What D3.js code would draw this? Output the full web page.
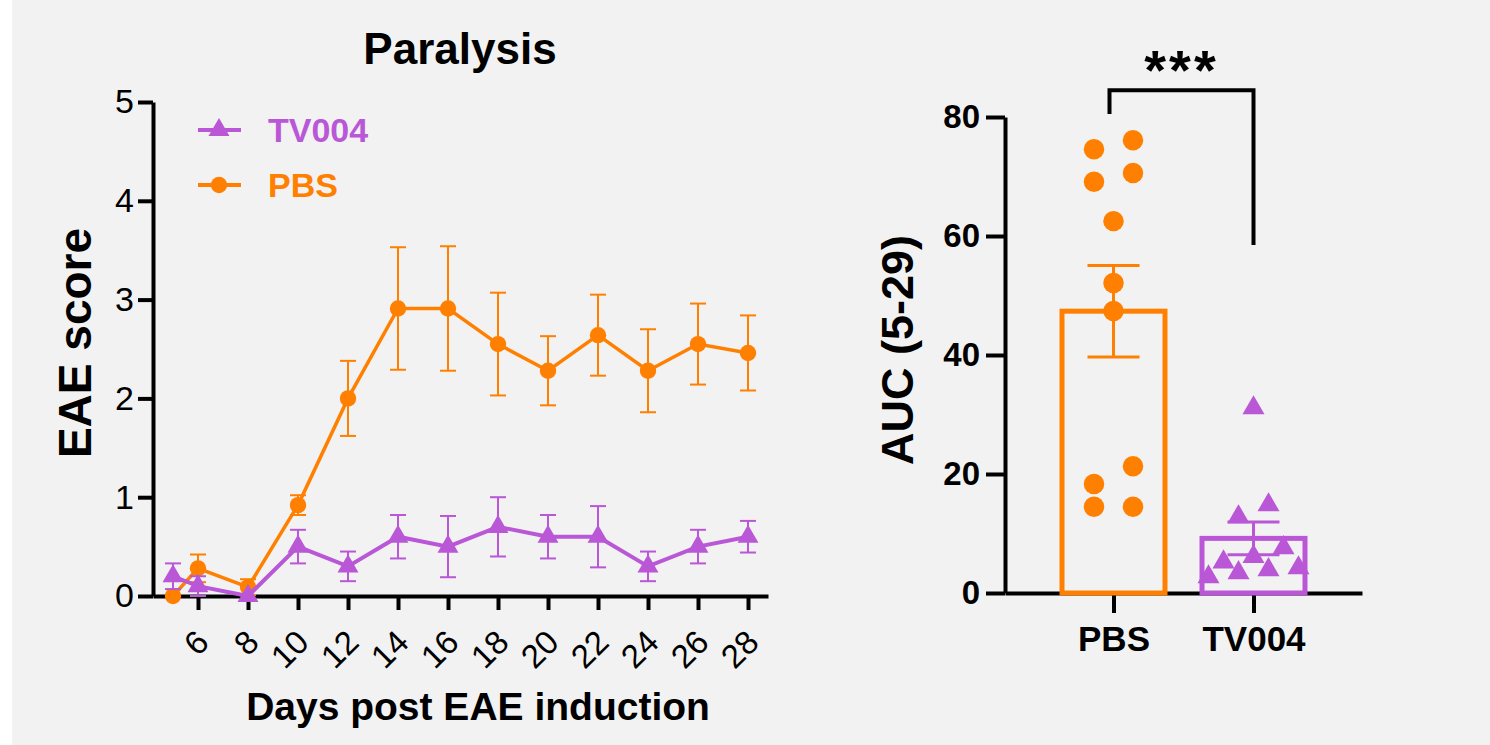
<!DOCTYPE html>
<html>
<head>
<meta charset="utf-8">
<script src="https://cdn.jsdelivr.net/npm/d3@7"></script>
<style>
  body { margin: 0; background: #fff; }
  svg text { font-family: "Liberation Sans", Arial, sans-serif; }
</style>
</head>
<body>
<div id="graf"></div>
<script>
// --- data: EAE score time course (mean, SEM)
const days = [5, 6, 8, 10, 12, 14, 16, 18, 20, 22, 24, 26, 28]
const pbsMean = [0, 0.28, 0.09, 0.92, 2.0, 2.91, 2.91, 2.55, 2.28, 2.64, 2.28, 2.55, 2.46]
const pbsSem = [0, 0.14, 0.08, 0.1, 0.38, 0.62, 0.63, 0.52, 0.35, 0.41, 0.42, 0.41, 0.38]
const tvMean = [0.2, 0.1, 0, 0.5, 0.3, 0.6, 0.5, 0.7, 0.6, 0.6, 0.3, 0.5, 0.6]
const tvSem = [0.13, 0.1, 0, 0.17, 0.15, 0.22, 0.31, 0.3, 0.22, 0.31, 0.15, 0.17, 0.16]
const dayTicks = [6, 8, 10, 12, 14, 16, 18, 20, 22, 24, 26, 28]
const scoreTicks = [0, 1, 2, 3, 4, 5]

// --- data: AUC (5-29) per animal
const groups = ["PBS", "TV004"]
const pbsAuc = [76.1, 74.6, 70.6, 69.1, 62.5, 52.1, 47.4, 21.3, 18.3, 14.5, 14.5]
const tvAuc = [31.1, 14.8, 12.8, 7.6, 6.1, 5.2, 4.2, 3.9, 3.4, 2.7]
const aucTicks = [0, 20, 40, 60, 80]
const bracketY = [80.5, 84.5, 58.5] // left foot, top, right foot

const orange = "#ff8000"
const purple = "#b957d7"

const W = 1490, H = 745
const svg = d3.select("#graf").append("svg").attr("width", W).attr("height", H)
svg.append("rect").attr("x", 12).attr("y", 0).attr("width", W - 12).attr("height", H).attr("fill", "#f2f2f2")

// ================= left panel =================
const x = d3.scaleLinear().domain([4.2, 28.8]).range([153, 768])
const y = d3.scaleLinear().domain([0, 5]).range([596, 102])

const styleAxis = (g, fs, bold) => {
  g.select(".domain").attr("stroke", "#000").attr("stroke-width", 4)
  g.selectAll(".tick line").attr("stroke", "#000").attr("stroke-width", 4)
  g.selectAll(".tick text").attr("fill", "#000").attr("font-size", fs)
    .attr("font-weight", bold ? "bold" : "normal")
    .style("font-family", "'Liberation Sans', Arial, sans-serif")
}

svg.append("g")
  .attr("transform", `translate(${x.range()[0]},0)`)
  .call(d3.axisLeft(y).tickValues(scoreTicks).tickFormat(d3.format("d"))
    .tickSize(15).tickSizeOuter(0).tickPadding(4))
  .call(styleAxis, 34, false)

const gx = svg.append("g")
  .attr("transform", `translate(0,${y(0)})`)
  .call(d3.axisBottom(x).tickValues(dayTicks).tickSize(14).tickSizeOuter(0))
  .call(styleAxis, 33, false)
gx.selectAll(".tick text")
  .attr("x", 0).attr("y", 0)
  .attr("text-anchor", "end")
  .attr("dy", "0.35em")
  .attr("transform", "translate(4,40) rotate(-45)")

svg.append("text").attr("x", 460).attr("y", 64).attr("text-anchor", "middle")
  .attr("font-size", 44).attr("font-weight", "bold").text("Paralysis")
svg.append("text").attr("x", 478).attr("y", 720).attr("text-anchor", "middle")
  .attr("font-size", 39).attr("font-weight", "bold").text("Days post EAE induction")
svg.append("text").attr("transform", "translate(91,343) rotate(-90)").attr("text-anchor", "middle")
  .attr("font-size", 46).attr("font-weight", "bold").text("EAE score")

const series = [
  { name: "PBS", mean: pbsMean, sem: pbsSem, color: orange, shape: d3.symbolCircle, size: 210, lw: 3.5 },
  { name: "TV004", mean: tvMean, sem: tvSem, color: purple, shape: d3.symbolTriangle, size: 190, lw: 4 },
]
const line = d3.line().x((d) => x(d.day)).y((d) => y(d.v))

series.forEach((s) => {
  const pts = days.map((d, i) => ({ day: d, v: s.mean[i], e: s.sem[i] }))
  const g = svg.append("g")
  const eb = g.selectAll(".eb").data(pts.filter((p) => p.e > 0)).enter().append("g")
    .attr("stroke", s.color).attr("stroke-width", 2)
  eb.append("line").attr("x1", (p) => x(p.day)).attr("x2", (p) => x(p.day))
    .attr("y1", (p) => y(p.v - p.e)).attr("y2", (p) => y(p.v + p.e))
  ;[-1, 1].forEach((sgn) => {
    eb.append("line").attr("x1", (p) => x(p.day) - 8).attr("x2", (p) => x(p.day) + 8)
      .attr("y1", (p) => y(p.v + sgn * p.e)).attr("y2", (p) => y(p.v + sgn * p.e))
  })
  g.append("path").datum(pts).attr("d", line).attr("fill", "none")
    .attr("stroke", s.color).attr("stroke-width", s.lw)
  g.selectAll(".m").data(pts).enter().append("path")
    .attr("d", d3.symbol().type(s.shape).size(s.size))
    .attr("transform", (p) => `translate(${x(p.day)},${y(p.v)})`)
    .attr("fill", s.color)
})

// legend
const legend = svg.append("g")
;[series[1], series[0]].forEach((s, i) => {
  const ly = 130 + i * 55
  legend.append("line").attr("x1", 198).attr("x2", 241).attr("y1", ly).attr("y2", ly)
    .attr("stroke", s.color).attr("stroke-width", 4)
  legend.append("path").attr("d", d3.symbol().type(s.shape).size(s.size))
    .attr("transform", `translate(219,${ly})`).attr("fill", s.color)
  legend.append("text").attr("x", 268).attr("y", ly + 12).attr("font-size", 34)
    .attr("font-weight", "bold").attr("fill", s.color).text(s.name)
})

// ================= right panel =================
const xr = d3.scalePoint().domain(groups).range([1005, 1362]).padding(0.775)
const yr = d3.scaleLinear().domain([0, 80]).range([593, 117])

svg.append("g")
  .attr("transform", `translate(${xr.range()[0]},0)`)
  .call(d3.axisLeft(yr).tickValues(aucTicks).tickSize(19).tickSizeOuter(0).tickPadding(6))
  .call(styleAxis, 33, true)
svg.append("g")
  .attr("transform", `translate(0,${yr(0)})`)
  .call(d3.axisBottom(xr).tickSize(20).tickSizeOuter(0).tickPadding(13))
  .call(styleAxis, 35, true)

svg.append("text").attr("transform", "translate(913,350) rotate(-90)").attr("text-anchor", "middle")
  .attr("font-size", 45).attr("font-weight", "bold").text("AUC (5-29)")

const aucGroups = [
  { name: "PBS", vals: pbsAuc, color: orange, shape: d3.symbolCircle, size: 330, spacing: 39 },
  { name: "TV004", vals: tvAuc, color: purple, shape: d3.symbolTriangle, size: 210, spacing: 30 },
]
const barW = 103

aucGroups.forEach((grp) => {
  const cx = xr(grp.name)
  const m = d3.mean(grp.vals)
  const sem = d3.deviation(grp.vals) / Math.sqrt(grp.vals.length)
  const g = svg.append("g")
  g.append("rect").attr("x", cx - barW / 2).attr("width", barW)
    .attr("y", yr(m)).attr("height", yr(0) - yr(m))
    .attr("fill", "none").attr("stroke", grp.color).attr("stroke-width", 5)
  g.append("line").attr("x1", cx).attr("x2", cx).attr("y1", yr(m - sem)).attr("y2", yr(m + sem))
    .attr("stroke", grp.color).attr("stroke-width", 3)
  ;[m - sem, m + sem].forEach((v) => {
    g.append("line").attr("x1", cx - 26).attr("x2", cx + 26).attr("y1", yr(v)).attr("y2", yr(v))
      .attr("stroke", grp.color).attr("stroke-width", 3)
  })

  // simple binned scatter: points closer than ~19px vertically share a row
  const sorted = grp.vals.slice().sort((a, b) => b - a)
  const rows = []
  sorted.forEach((v) => {
    const last = rows[rows.length - 1]
    if (last && yr(v) - yr(last[0]) < 19) last.push(v)
    else rows.push([v])
  })
  const pts = []
  rows.forEach((r) => {
    r.slice().sort((a, b) => a - b).forEach((v, i) => {
      pts.push({ v, off: (i - (r.length - 1) / 2) * grp.spacing })
    })
  })
  g.selectAll(".pt").data(pts).enter().append("path")
    .attr("d", d3.symbol().type(grp.shape).size(grp.size))
    .attr("transform", (p) => `translate(${cx + p.off},${yr(p.v)})`)
    .attr("fill", grp.color)
})

// significance bracket
const bx0 = xr("PBS") - 4, bx1 = xr("TV004")
svg.append("path")
  .attr("d", `M${bx0},${yr(bracketY[0])}V${yr(bracketY[1])}H${bx1}V${yr(bracketY[2])}`)
  .attr("fill", "none").attr("stroke", "#000").attr("stroke-width", 4)
svg.append("text").attr("x", (bx0 + bx1) / 2).attr("y", 89).attr("text-anchor", "middle")
  .attr("font-size", 56).attr("font-weight", "bold").attr("letter-spacing", 3).text("***")
</script>
</body>
</html>
